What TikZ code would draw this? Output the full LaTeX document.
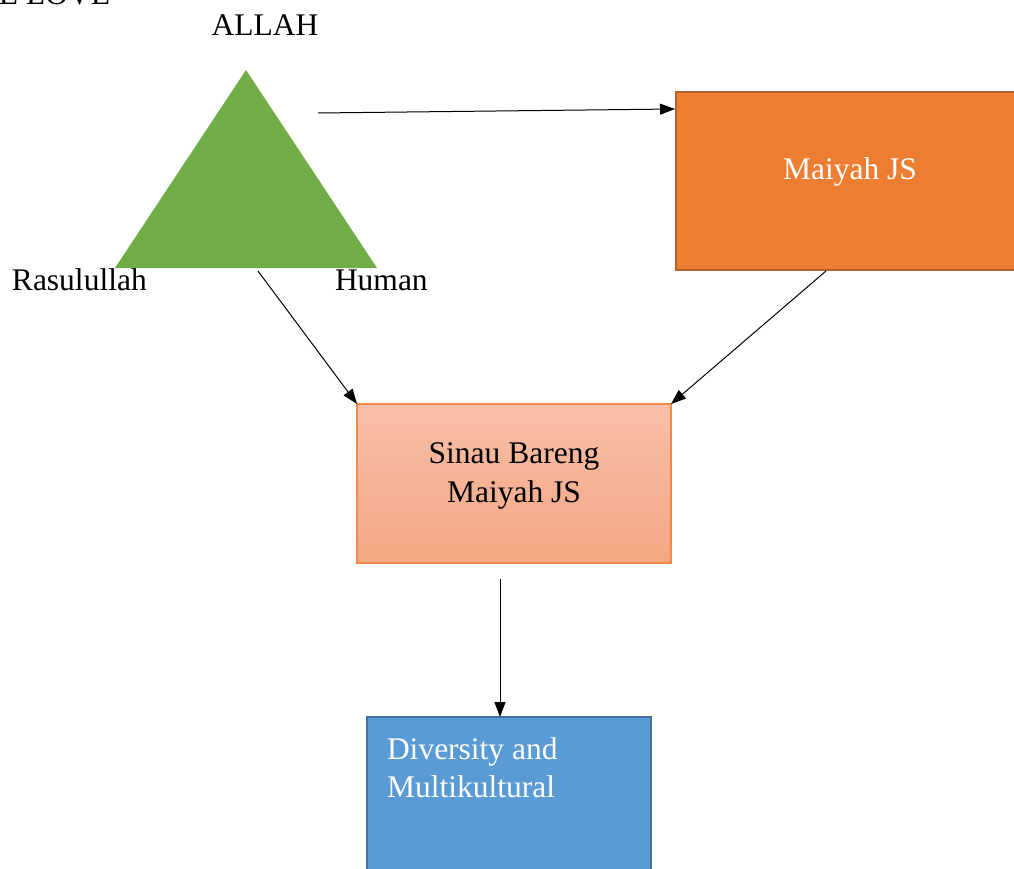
\documentclass[tikz,border=0pt]{standalone}
\usepackage{fontspec}
\setmainfont{Liberation Serif}
\usetikzlibrary{arrows.meta}
\definecolor{trigreen}{HTML}{70AD47}
\definecolor{orfill}{HTML}{ED7D31}
\definecolor{ordraw}{HTML}{B5622A}
\definecolor{pktop}{HTML}{F7BFA8}
\definecolor{pkbot}{HTML}{F4A683}
\definecolor{pkdraw}{HTML}{F08A4B}
\definecolor{blfill}{HTML}{5B9BD5}
\definecolor{bldraw}{HTML}{41719C}
\tikzset{
  lbl/.style={font=\fontsize{31.5}{39}\selectfont, inner sep=0pt, outer sep=0pt},
  conn/.style={draw=black, line width=1pt, -{Triangle[length=15pt,width=11pt]}},
}
\begin{document}
\begin{tikzpicture}[x=1pt,y=-1pt]
\useasboundingbox[fill=white] (0,0) rectangle (1014,869);
\begin{scope}
\clip (0,0) rectangle (1014,869);
% triangle
\fill[trigreen] (246,70) -- (377,268) -- (115,268) -- cycle;
% boxes
\draw[fill=orfill, draw=ordraw, line width=2pt] (676,92) rectangle (1030,270);
\path (676,92) coordinate (orNW) (676,109) coordinate (orW) (826,271) coordinate (orS);
\shade[top color=pktop, bottom color=pkbot] (357,404) rectangle (671,563);
\draw[draw=pkdraw, line width=1.5pt] (357,404) rectangle (671,563);
\draw[fill=blfill, draw=bldraw, line width=2pt] (367,717) rectangle (651,880);
% texts
\node[lbl, anchor=base east] (love) at (110,5) {E LOVE};
\node[lbl, anchor=base] (allah) at (265,36) {ALLAH};
\node[lbl, anchor=base west] (rasul) at (12,290) {Rasulullah};
\node[lbl, anchor=base west] (human) at (335,290) {Human};
\node[lbl, anchor=base, text=white] (maiyah) at (850,180) {Maiyah JS};
\node[lbl, anchor=base] (sinau1) at (514,463) {Sinau Bareng};
\node[lbl, anchor=base] (sinau2) at (514,502) {Maiyah JS};
\node[lbl, anchor=base west, text=white] (div1) at (387,759) {Diversity and};
\node[lbl, anchor=base west, text=white] (div2) at (387,797) {Multikultural};
% connector endpoints
\coordinate (triR) at (318,113);
\coordinate (orIn) at (675,109);
\coordinate (triB) at (258,271);
\coordinate (pkNW) at (357,404);
\coordinate (pkNE) at (671,404);
\coordinate (pkS) at (500,579);
\coordinate (blN) at (500,717);
% connectors
\draw[conn] (triR) -- (orIn);
\draw[conn] (orS) -- (pkNE);
\draw[conn] (triB) -- (pkNW);
\draw[conn] (pkS) -- (blN);
\end{scope}
\end{tikzpicture}
\end{document}
